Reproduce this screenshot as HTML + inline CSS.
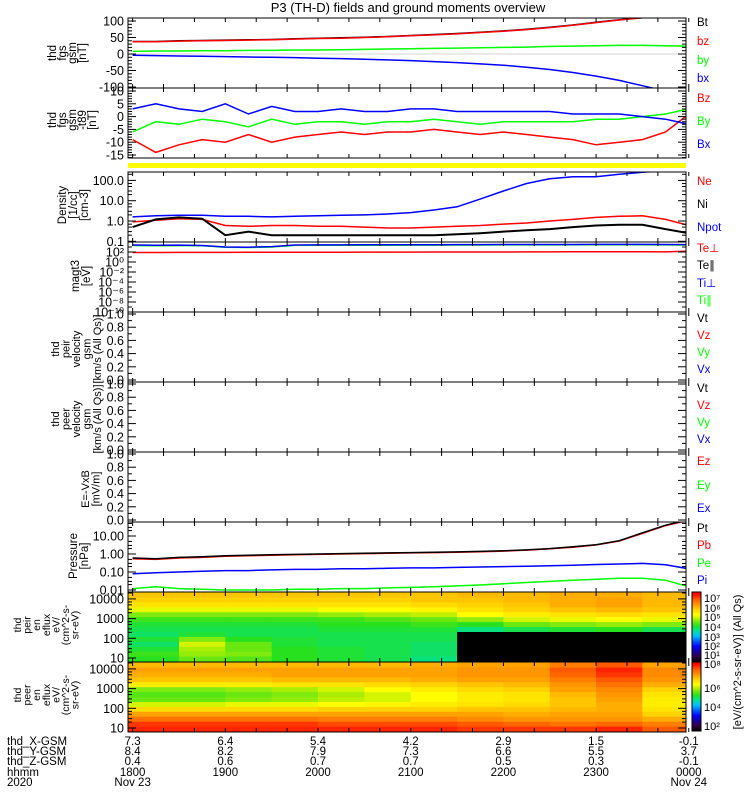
<!DOCTYPE html>
<html><head><meta charset="utf-8">
<style>
html,body{margin:0;padding:0;background:#fff;}
svg{display:block;font-family:"Liberation Sans",sans-serif;}
</style></head>
<body>
<svg id="fig" width="750" height="800" viewBox="0 0 750 800" xmlns="http://www.w3.org/2000/svg">
<text x="408" y="12" font-size="13" text-anchor="middle">P3 (TH-D) fields and ground moments overview</text>
</svg>
<script>
// ---------- DATA ----------
const times = [18.0,18.25,18.5,18.75,19.0,19.25,19.5,19.75,20.0,20.25,20.5,20.75,21.0,21.25,21.5,21.75,22.0,22.25,22.5,22.75,23.0,23.25,23.5,23.75,24.0];
const fgsBt = [38,38,40,41,42,43,44,46,48,49,51,53,56,59,62,66,70,75,81,88,96,104,110,118,126];
const fgsBz = [37,37,39,40,41,42,43,45,47,48,50,52,55,58,61,65,69,74,80,87,95,103,110,118,126];
const fgsBy = [8,9,9,10,10,11,11,12,12,13,14,15,16,17,18,19,20,21,23,24,25,26,26,25,24];
const fgsBx = [-4,-5,-6,-7,-8,-9,-10,-11,-13,-14,-16,-18,-20,-23,-26,-30,-34,-40,-47,-56,-67,-80,-96,-112,-130];
const dBz = [3,5,3,2,5,1,4,2,2,3,2,2,3,3,2,2,2,2,2,1,1,1,0,-1,-3];
const dBy = [-6,-2,-3,-1,-2,-4,-1,-3,-2,-2,-3,-2,-2,-1,-2,-3,-2,-2,-2,-2,-1,-1,0,1,3];
const dBx = [-9,-14,-11,-9,-10,-7,-10,-8,-7,-6,-7,-6,-6,-5,-6,-7,-6,-7,-8,-9,-11,-10,-9,-6,1];
const densNe = [0.9,1.1,1.3,1.2,0.6,0.55,0.6,0.6,0.55,0.55,0.5,0.45,0.45,0.5,0.55,0.6,0.7,0.8,1.0,1.2,1.5,1.7,1.8,1.2,0.6];
const densNi = [0.5,1.2,1.5,1.3,0.2,0.3,0.2,0.2,0.2,0.2,0.2,0.2,0.2,0.2,0.22,0.25,0.3,0.35,0.4,0.5,0.6,0.65,0.65,0.4,0.25];
const densNpot = [1.6,1.8,1.9,1.9,1.7,1.7,1.6,1.7,1.8,1.9,2.0,2.2,2.6,3.5,5,12,30,70,120,150,150,200,250,300,300];
const tempTiPerp = [2500,2200,2400,2000,1000,900,1200,2500,2600,2600,2700,2700,2800,2900,3000,3000,3100,3100,3200,3200,3300,3300,3300,3200,3000];
const tempTiPar = [2000,1800,1900,1700,900,800,1000,2100,2200,2200,2300,2300,2400,2400,2500,2500,2600,2600,2600,2700,2700,2700,2700,2600,2500];
const tempTePerp = [80,80,82,84,85,86,88,90,90,92,94,95,96,98,100,100,102,104,105,108,110,110,108,105,150];
const presPt = [0.6,0.55,0.65,0.7,0.8,0.85,0.9,0.95,1.0,1.05,1.1,1.15,1.2,1.25,1.3,1.4,1.5,1.7,2.0,2.5,3.3,5.5,15,40,80];
const presPb = [0.55,0.5,0.6,0.65,0.75,0.8,0.85,0.9,0.95,1.0,1.05,1.1,1.15,1.2,1.25,1.35,1.45,1.65,1.95,2.4,3.2,5.3,14,38,75];
const presPe = [0.08,0.09,0.1,0.11,0.12,0.12,0.13,0.14,0.14,0.15,0.15,0.16,0.17,0.17,0.18,0.19,0.2,0.21,0.22,0.24,0.26,0.28,0.3,0.25,0.15];
const presPi = [0.012,0.015,0.012,0.011,0.01,0.01,0.01,0.011,0.011,0.012,0.012,0.013,0.014,0.015,0.017,0.019,0.022,0.026,0.03,0.035,0.04,0.045,0.045,0.035,0.015];
const specTimes = [17.95,18.5,19.0,19.5,20.0,20.5,21.0,21.5,22.0,22.5,23.0,23.5];
const specLogE = [0.975,1.225,1.475,1.725,1.975,2.225,2.475,2.725,2.975,3.225,3.475,3.725,3.975,4.225];
const ionFlux = [
 [4.0,4.1,3.9,3.7,3.9,3.7,3.8,3.9,4.1,4.4,4.9,5.3,5.5,5.6],
 [4.3,4.5,4.6,4.8,4.4,3.9,3.8,3.9,4.1,4.4,4.9,5.3,5.5,5.6],
 [4.2,4.4,4.3,4.3,4.0,3.8,3.8,3.9,4.1,4.4,4.9,5.3,5.5,5.6],
 [4.0,4.0,4.0,3.9,3.9,3.8,3.8,3.9,4.1,4.4,4.9,5.3,5.5,5.6],
 [3.9,3.9,3.9,3.8,3.8,3.8,3.9,4.0,4.1,4.5,5.0,5.3,5.5,5.6],
 [3.8,3.8,3.8,3.8,3.8,3.8,3.9,4.0,4.2,4.6,5.0,5.3,5.5,5.6],
 [3.6,3.7,3.7,3.7,3.8,3.8,3.9,4.1,4.3,4.7,5.1,5.4,5.6,5.6],
 [0,0,0,0,0,0,3.6,4.0,4.5,5.0,5.3,5.5,5.6,5.7],
 [0,0,0,0,0,0,3.8,4.3,4.8,5.2,5.5,5.6,5.7,5.7],
 [0,0,0,0,0,0,3.9,4.4,4.9,5.3,5.6,5.8,5.8,5.8],
 [0,0,0,0,0,0,4.0,4.5,5.0,5.4,5.7,5.9,5.9,5.8],
 [0,0,0,0,0,0,3.8,4.4,4.9,5.3,5.6,5.7,5.7,5.7]
];
const eleFlux = [
 [6.8,6.7,6.3,5.9,5.4,4.8,4.3,4.2,4.4,5.2,5.6,5.8,5.9,5.7],
 [6.8,6.7,6.3,5.9,5.4,4.8,4.3,4.2,4.4,5.2,5.6,5.8,5.9,5.7],
 [6.8,6.7,6.3,5.9,5.4,4.9,4.4,4.3,4.5,5.2,5.6,5.8,5.9,5.7],
 [6.8,6.7,6.3,5.9,5.4,4.9,4.5,4.4,4.6,5.3,5.7,5.9,5.9,5.7],
 [6.8,6.6,6.2,5.9,5.5,5.0,4.7,4.6,4.8,5.3,5.7,5.9,5.9,5.7],
 [6.8,6.6,6.2,5.9,5.5,5.1,4.8,4.8,5.0,5.4,5.7,5.9,5.9,5.7],
 [6.8,6.6,6.2,5.9,5.5,5.2,5.0,5.0,5.2,5.5,5.8,5.9,5.9,5.8],
 [6.7,6.5,6.1,5.9,5.6,5.3,5.2,5.2,5.4,5.6,5.9,6.0,6.0,5.9],
 [6.7,6.4,6.0,5.8,5.6,5.4,5.3,5.3,5.5,5.7,5.9,6.0,6.0,5.9],
 [6.7,6.3,6.0,5.9,5.7,5.6,5.6,5.7,5.9,6.0,6.2,6.4,6.5,6.2],
 [6.8,6.4,6.0,5.9,5.8,5.8,5.9,6.0,6.1,6.3,6.5,6.7,6.8,6.5],
 [6.5,6.2,5.8,5.5,5.3,5.2,5.2,5.3,5.5,5.8,6.0,6.1,6.1,5.9]
];
const tickHours = [18,19,20,21,22,23,24];
const tickHHMM = ["1800","1900","2000","2100","2200","2300","0000"];
const posX = ["7.3","6.4","5.4","4.2","2.9","1.5","-0.1"];
const posY = ["8.4","8.2","7.9","7.3","6.6","5.5","3.7"];
const posZ = ["0.4","0.6","0.7","0.7","0.5","0.3","-0.1"];

// ---------- HELPERS ----------
const NS = "http://www.w3.org/2000/svg";
const svg = document.getElementById("fig");
const X0 = 128, X1 = 686, T0 = 17.95, T1 = 23.97;
function xs(t){ return X0 + (t - T0) / (T1 - T0) * (X1 - X0); }
function mk(tag, attrs, parent){
  const e = document.createElementNS(NS, tag);
  for (const k in attrs) e.setAttribute(k, attrs[k]);
  (parent || svg).appendChild(e);
  return e;
}
let clipN = 0;
function clipFor(top, bot){
  const id = "clip" + (clipN++);
  const cp = mk("clipPath", {id: id});
  mk("rect", {x: X0, y: top, width: X1 - X0, height: bot - top}, cp);
  return "url(#" + id + ")";
}
function drawSeries(vals, yf, color, clip, name, w){
  let d = "";
  for (let i = 0; i < times.length; i++){
    d += (i ? "L" : "M") + xs(times[i]).toFixed(1) + " " + yf(vals[i]).toFixed(1);
  }
  const p = mk("path", {d: d, fill: "none", stroke: color, "stroke-width": w || 1.5, "clip-path": clip});
  
  
}
function frame(top, bot, name){
  const r = mk("rect", {x: X0, y: top, width: X1 - X0, height: bot - top, fill: "none", stroke: "#000", "stroke-width": 1});
  
  
  for (let t = 18; t <= 24.01; t += 1/3){
    const x = xs(t);
    mk("line", {x1: x, y1: bot, x2: x, y2: bot - 4, stroke: "#000"});
    mk("line", {x1: x, y1: top, x2: x, y2: top + 4, stroke: "#000"});
  }
}
function yTick(y, label, name, major){
  const len = major ? 8 : 4;
  mk("line", {x1: X0, y1: y, x2: X0 + len, y2: y, stroke: "#000"});
  mk("line", {x1: X1, y1: y, x2: X1 - len, y2: y, stroke: "#000"});
  if (label !== null){
    const t = mk("text", {x: 124, y: y + 4.5, "font-size": 12.5, "text-anchor": "end"});
    t.textContent = label;
    
    
  }
}
function sideLabel(lines, x0, cy, fs, step, name){
  const g = mk("g", {});
  
  
  lines.forEach((s, i) => {
    const x = x0 + i * step;
    const t = mk("text", {x: x, y: cy, "font-size": fs, "text-anchor": "middle", transform: "rotate(-90 " + x + " " + cy + ")"}, g);
    t.textContent = s;
  });
}
function legend(items){
  items.forEach(it => {
    const t = mk("text", {x: 697, y: it[2], "font-size": 11.5, fill: it[1]});
    t.textContent = it[0];
    
    
  });
}
function logY(top, yAt1, perDec){ return v => yAt1 - perDec * Math.log10(Math.max(v, 1e-12)); }
const RED="#ff0000", GRN="#00ff00", BLU="#0000ff", BLK="#000000";

// ---------- PANEL 1 ----------
{
  const top = 18, bot = 88, yf = v => 54 - v * 0.33, cl = clipFor(top, bot);
  mk("line", {x1: X0, y1: yf(0), x2: X1, y2: yf(0), stroke: "#aaa", "stroke-width": 0.6});
  drawSeries(fgsBy, yf, GRN, cl, "series-by");
  drawSeries(fgsBx, yf, BLU, cl, "series-bx");
  drawSeries(fgsBt, yf, BLK, cl, "series-bt");
  drawSeries(fgsBz, yf, RED, cl, "series-bz");
  frame(top, bot, "fgs-gsm-panel");
  [100,50,0,-50,-100].forEach(v => yTick(yf(v), String(v), "fgs-y-tick", true));
  for (let v = -90; v <= 90; v += 10) if (v % 50) yTick(yf(v), null, "", false);
  sideLabel(["thd","fgs","gsm","[nT]"], 56, 53, 11.5, 10, "fgs-gsm-y-title");
  legend([["Bt",BLK,26,"bt"],["bz",RED,45,"bz"],["by",GRN,64,"by"],["bx",BLU,82,"bx"]]);
}
// ---------- PANEL 2 ----------
{
  const top = 88, bot = 158, yf = v => 116.6 - 2.56 * v, cl = clipFor(top, bot);
  drawSeries(dBy, yf, GRN, cl, "series-dby");
  drawSeries(dBx, yf, RED, cl, "series-dbx");
  drawSeries(dBz, yf, BLU, cl, "series-dbz");
  frame(top, bot, "fgs-t89-panel");
  [10,5,0,-5,-10,-15].forEach(v => yTick(yf(v), String(v), "t89-y-tick", true));
  for (let v = -16; v <= 10; v += 1) if (v % 5) yTick(yf(v), null, "", false);
  sideLabel(["thd","fgs","gsm","-t89","[nT]"], 56, 120, 11.5, 10, "fgs-t89-y-title");
  legend([["Bz",RED,102,"dbz"],["By",GRN,125,"dby"],["Bx",BLU,148,"dbx"]]);
}
{
  const r = mk("rect", {x: X0, y: 163, width: X1 - X0, height: 5, fill: "#ffff00"});
  
  
}
// ---------- DENSITY ----------
{
  const top = 172, bot = 242, yf = logY(top, 221, 20.3), cl = clipFor(top, bot);
  drawSeries(densNpot, yf, BLU, cl, "series-npot");
  drawSeries(densNe, yf, RED, cl, "series-ne");
  drawSeries(densNi, yf, BLK, cl, "series-ni", 2);
  frame(top, bot, "density-panel");
  [[100,"100.0"],[10,"10.0"],[1,"1.0"],[0.1,"0.1"]].forEach(a => yTick(yf(a[0]), a[1], "density-y-tick", true));
  [0.2,0.3,0.5,0.7,2,3,5,7,20,30,50,70,200].forEach(v => { if (yf(v) > top) yTick(yf(v), null, "", false); });
  sideLabel(["Density","[1/cc]","[cm-3]"], 66, 205, 11.5, 11, "density-y-title");
  legend([["Ne",RED,185,"ne"],["Ni",BLK,208,"ni"],["Npot",BLU,231,"npot"]]);
}
// ---------- MAGT3 ----------
{
  const top = 242, bot = 312, yf = logY(top, 262, 5), cl = clipFor(top, bot);
  drawSeries(tempTiPar, yf, GRN, cl, "series-ti-par");
  drawSeries(tempTiPerp, yf, BLU, cl, "series-ti-perp");
  drawSeries(tempTePerp, yf, RED, cl, "series-te-perp");
  frame(top, bot, "magt3-panel");
  [[2,"10²"],[0,"10⁰"],[-2,"10⁻²"],[-4,"10⁻⁴"],[-6,"10⁻⁶"],[-8,"10⁻⁸"],[-10,"10⁻¹⁰"]].forEach(a => yTick(yf(Math.pow(10,a[0])), a[1], "magt3-y-tick", true));
  for (let e = -9; e <= 3; e += 2) yTick(yf(Math.pow(10,e)), null, "", false);
  sideLabel(["magt3","[eV]"], 79, 276, 11.5, 11, "magt3-y-title");
  legend([["Te⊥",RED,252,"te-perp"],["Te∥",BLK,269,"te-par"],["Ti⊥",BLU,287,"ti-perp"],["Ti∥",GRN,304,"ti-par"]]);
}
function emptyPanel(top, bot, name, lines, lx, fs, leg){
  const yf = v => bot - 2 - v * (bot - top - 4);
  frame(top, bot, name);
  [0,0.2,0.4,0.6,0.8,1.0].forEach(v => yTick(yf(v), v.toFixed(1), name + "-y-tick", true));
  for (let v = 0.1; v < 1; v += 0.2) yTick(yf(v), null, "", false);
  sideLabel(lines, lx, (top + bot) / 2 + 2, fs, 10.5, name + "-y-title");
  legend(leg);
}
emptyPanel(312, 382, "peir-velocity-panel", ["thd","peir","velocity","gsm","[km/s (All Qs)]"], 59, 11, [["Vt",BLK,322,"peir-vt"],["Vz",RED,339,"peir-vz"],["Vy",GRN,356,"peir-vy"],["Vx",BLU,373,"peir-vx"]]);
emptyPanel(382, 452, "peer-velocity-panel", ["thd","peer","velocity","gsm","[km/s (All Qs)]"], 59, 11, [["Vt",BLK,392,"peer-vt"],["Vz",RED,409,"peer-vz"],["Vy",GRN,426,"peer-vy"],["Vx",BLU,443,"peer-vx"]]);
emptyPanel(452, 522, "efield-panel", ["E=-VxB","[mV/m]"], 89, 11, [["Ez",RED,465,"ez"],["Ey",GRN,489,"ey"],["Ex",BLU,512,"ex"]]);
// ---------- PRESSURE ----------
{
  const top = 522, bot = 592, yf = logY(top, 554, 18), cl = clipFor(top, bot);
  drawSeries(presPi, yf, GRN, cl, "series-pi");
  drawSeries(presPe, yf, BLU, cl, "series-pe");
  drawSeries(presPb, yf, RED, cl, "series-pb");
  drawSeries(presPt, yf, BLK, cl, "series-pt");
  frame(top, bot, "pressure-panel");
  [[10,"10.00"],[1,"1.00"],[0.1,"0.10"],[0.01,"0.01"]].forEach(a => yTick(yf(a[0]), a[1], "pressure-y-tick", true));
  [0.02,0.03,0.05,0.2,0.3,0.5,2,3,5,20,30,50].forEach(v => yTick(yf(v), null, "", false));
  sideLabel(["Pressure","[nPa]"], 77, 556, 11.5, 11, "pressure-y-title");
  legend([["Pt",BLK,532,"pt"],["Pb",RED,549,"pb"],["Pe",GRN,567,"pe"],["Pi",BLU,584,"pi"]]);
}
// ---------- SPECTROGRAMS ----------
const cstops = [[0.5,[0,0,0]],[1,[48,0,64]],[2,[0,0,255]],[3,[0,190,255]],[3.5,[0,225,150]],[4,[40,225,30]],[4.7,[190,240,0]],[5,[255,255,0]],[5.5,[255,210,0]],[6,[255,150,0]],[6.5,[255,90,0]],[7,[255,0,0]]];
function cmap(v){
  if (v <= cstops[0][0]) return "rgb(0,0,0)";
  for (let i = 1; i < cstops.length; i++){
    if (v <= cstops[i][0]){
      const a = cstops[i-1], b = cstops[i], f = (v - a[0]) / (b[0] - a[0]);
      const c = a[1].map((x, k) => Math.round(x + (b[1][k] - x) * f));
      return "rgb(" + c.join(",") + ")";
    }
  }
  return "rgb(255,0,0)";
}
function spectro(top, bot, mat, name, lines){
  const yf = le => 659 + (top - 593) - 19.7 * (le - 1);
  const g = mk("g", {"clip-path": clipFor(top, bot)});
  
  
  for (let i = 0; i < specTimes.length; i++){
    const xa = xs(specTimes[i]), xb = (i + 1 < specTimes.length) ? xs(specTimes[i+1]) : X1;
    for (let j = 0; j < specLogE.length; j++){
      const ya = yf(specLogE[j] + 0.125), yb = yf(specLogE[j] - 0.125);
      const c = mk("rect", {x: xa.toFixed(1), y: ya.toFixed(1), width: (xb - xa + 0.6).toFixed(1), height: (yb - ya + 0.6).toFixed(1), fill: cmap(mat[i][j])}, g);
      
      
    }
  }
  frame(top, bot, name);
  [[1,"10"],[2,"100"],[3,"1000"],[4,"10000"]].forEach(a => yTick(yf(a[0]), a[1], name + "-y-tick", true));
  for (let d = 1; d <= 4; d++) [2,3,5,7].forEach(m => { const y = yf(d + Math.log10(m)); if (y > top) yTick(y, null, "", false); });
  sideLabel(lines, 21, (top + bot) / 2 - 2, 10.5, 9.6, name + "-y-title");
}
spectro(592, 662, ionFlux, "peir-spectrogram", ["thd","peir","en","eflux","eV/","(cm^2-s-","sr-eV)"]);
spectro(662, 732, eleFlux, "peer-spectrogram", ["thd","peer","en","eflux","eV/","(cm^2-s-","sr-eV)"]);
{
  const defs = mk("defs", {});
  const lg = mk("linearGradient", {id: "cbar", x1: 0, y1: 1, x2: 0, y2: 0}, defs);
  for (let v = 0.5; v <= 7.2; v += 0.25){
    mk("stop", {offset: ((v - 0.5) / 6.7).toFixed(3), "stop-color": cmap(v)}, lg);
  }
  [[592,662,"peir-colorbar"],[662,731,"peer-colorbar"]].forEach(b => {
    const r = mk("rect", {x: 692, y: b[0], width: 9, height: b[1] - b[0], fill: "url(#cbar)", stroke: "#000", "stroke-width": 1});
    
    
  });
  [["10⁷",598],["10⁶",608],["10⁵",617],["10⁴",627],["10³",637],["10²",646],["10¹",655],["10⁸",664],["10⁶",688],["10⁴",707],["10²",726]].forEach(a => {
    const t = mk("text", {x: 704, y: a[1] + 4, "font-size": 11});
    t.textContent = a[0];
    
    
  });
  const t = mk("text", {x: 741, y: 662, "font-size": 11, "text-anchor": "middle", transform: "rotate(-90 741 662)"});
  t.textContent = "[eV/(cm^2-s-sr-eV)] (All Qs)";
  
  
}
// ---------- BOTTOM ANNOTATION ----------
{
  const rows = [["thd_X-GSM",posX,745],["thd_Y-GSM",posY,755],["thd_Z-GSM",posZ,765],["hhmm",tickHHMM,776]];
  rows.forEach(r => {
    const lt = mk("text", {x: 7, y: r[2], "font-size": 11.5});
    lt.textContent = r[0];
    
    
    tickHours.forEach((h, i) => {
      const t = mk("text", {x: xs(h), y: r[2], "font-size": 11.5, "text-anchor": "middle"});
      t.textContent = r[1][i];
      
      
    });
  });
  const y20 = mk("text", {x: 7, y: 786, "font-size": 11.5});
  y20.textContent = "2020";
  
  
  [["Nov 23",18],["Nov 24",24]].forEach(a => {
    const t = mk("text", {x: xs(a[1]), y: 786, "font-size": 11.5, "text-anchor": "middle"});
    t.textContent = a[0];
    
    
  });
}
</script>
</body></html>
